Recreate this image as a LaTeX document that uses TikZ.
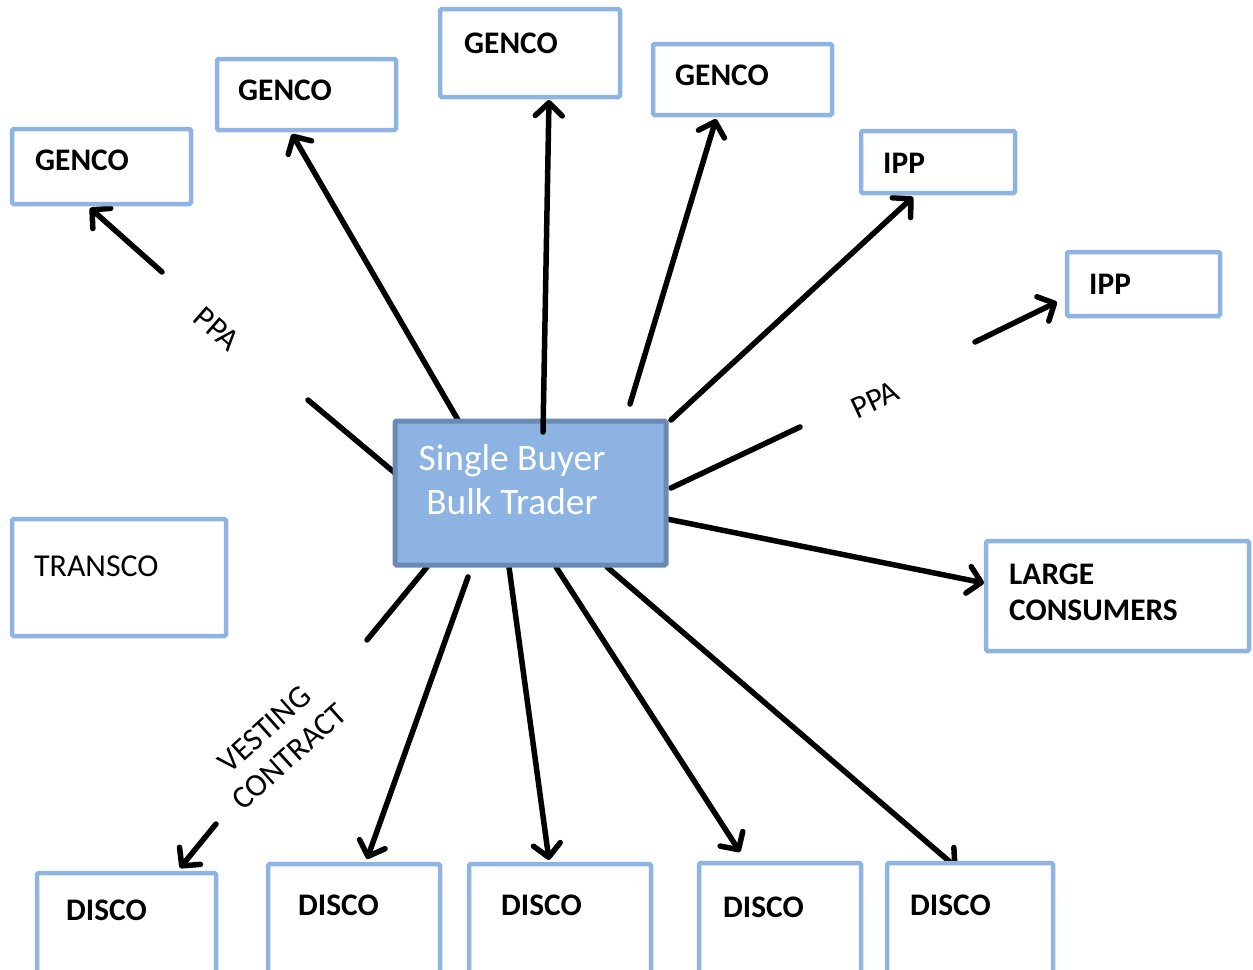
\documentclass[tikz,border=0pt]{standalone}
\usepackage{fontspec}
\setmainfont{Carlito}
\usetikzlibrary{arrows.meta}
\definecolor{boxline}{HTML}{8EB4E3}
\definecolor{hubfill}{HTML}{8DB3E2}
\definecolor{hubline}{HTML}{6A8AB4}
\tikzset{
  party/.style={draw=boxline, line width=4.5bp, fill=white, rounded corners=1.5bp},
  hub/.style={draw=hubline, line width=5bp, fill=hubfill, rounded corners=1.5bp},
  boldlbl/.style={inner sep=0pt, anchor=base west, font=\fontsize{31.5}{38}\selectfont\bfseries},
  plainlbl/.style={inner sep=0pt, font=\fontsize{32}{37}\selectfont},
  hublbl/.style={inner sep=0pt, anchor=base, text=white, font=\fontsize{37.5}{44}\selectfont},
  link/.style={line width=5.5bp, line cap=round},
  flow/.style={link, -{Straight Barb[length=13bp, width=27bp, line width=5.5bp, round]}}
}
\begin{document}
\begin{tikzpicture}[x=1bp, y=-1bp]
\useasboundingbox (0,0) rectangle (1253,970);
\clip (0,0) rectangle (1253,970);

% connector end points
\coordinate (a1s) at (395,473); \coordinate (a1m) at (308,400);
\coordinate (a1n) at (162,272); \coordinate (a1t) at (90,208);
\coordinate (a2s) at (458,420); \coordinate (a2t) at (292,134);
\coordinate (a3s) at (543,432); \coordinate (a3t) at (549,100);
\coordinate (a4s) at (630,404); \coordinate (a4t) at (716,119);
\coordinate (a5s) at (671,420); \coordinate (a5t) at (913,197);
\coordinate (a6s) at (671,488); \coordinate (a6m) at (800,427);
\coordinate (a6n) at (975,342); \coordinate (a6t) at (1057,302);
\coordinate (a7s) at (667,519); \coordinate (a7t) at (984,583);
\coordinate (b1s) at (427,567); \coordinate (b1m) at (367,640);
\coordinate (b1n) at (216,824); \coordinate (b1t) at (180,868);
\coordinate (b2s) at (468,577); \coordinate (b2t) at (367,859);
\coordinate (b3s) at (509,567); \coordinate (b3t) at (549,860);
\coordinate (b4s) at (556,567); \coordinate (b4t) at (740,852);
\coordinate (b5s) at (607,567); \coordinate (b5t) at (957,868);

% connectors (drawn first, boxes sit on top)
\draw[link] (a1s) -- (a1m);
\draw[flow] (a1n) -- (a1t);
\draw[flow] (a2s) -- (a2t);
\draw[flow] (a4s) -- (a4t);
\draw[flow] (a5s) -- (a5t);
\draw[link] (a6s) -- (a6m);
\draw[flow] (a6n) -- (a6t);
\draw[flow] (a7s) -- (a7t);
\draw[link] (b1s) -- (b1m);
\draw[flow] (b1n) -- (b1t);
\draw[flow] (b2s) -- (b2t);
\draw[flow] (b3s) -- (b3t);
\draw[flow] (b4s) -- (b4t);
\draw[flow] (b5s) -- (b5t);

% market participants
\path[party] (12,129) rectangle (191,204);
\node[boldlbl] (g1) at (35,170) {GENCO};
\path[party] (217,59) rectangle (396,130);
\node[boldlbl] (g2) at (238,100) {GENCO};
\path[party] (440,9) rectangle (620,97);
\node[boldlbl] (g3) at (464,53) {GENCO};
\path[party] (653,44) rectangle (832,115);
\node[boldlbl] (g4) at (675,85) {GENCO};
\path[party] (861,131) rectangle (1015,193);
\node[boldlbl] (i1) at (883,173) {IPP};
\path[party] (1067,252) rectangle (1220,316);
\node[boldlbl] (i2) at (1089,294) {IPP};
\path[party] (986,541) rectangle (1249,651);
\node[boldlbl] (lc1) at (1009,584) {LARGE};
\node[boldlbl] (lc2) at (1009,620) {CONSUMERS};
\path[party] (12,519) rectangle (226,636);
\node[plainlbl, anchor=base west] (tr) at (34,576) {TRANSCO};
\path[party] (37,873) rectangle (216,990);
\node[boldlbl] (d1) at (66,920) {DISCO};
\path[party] (268,864) rectangle (440,990);
\node[boldlbl] (d2) at (298,915) {DISCO};
\path[party] (469,864) rectangle (651,990);
\node[boldlbl] (d3) at (501,915) {DISCO};
\path[party] (699,863) rectangle (861,990);
\node[boldlbl] (d4) at (723,917) {DISCO};
\path[party] (887,863) rectangle (1053,990);
\node[boldlbl] (d5) at (910,915) {DISCO};

% the single buyer
\path[hub] (395,421) rectangle (666,565);
\node[hublbl] (sb1) at (512,470) {Single Buyer};
\node[hublbl] (sb2) at (512,514) {Bulk Trader};
\draw[flow] (a3s) -- (a3t);

% contract labels
\node[plainlbl, rotate=-41] (ppa1) at (217,329) {PPA};
\node[plainlbl, rotate=25] (ppa2) at (875,400) {PPA};
\node[plainlbl, align=center, rotate=42] (vc) at (277,743) {VESTING\\CONTRACT};
\end{tikzpicture}
\end{document}
